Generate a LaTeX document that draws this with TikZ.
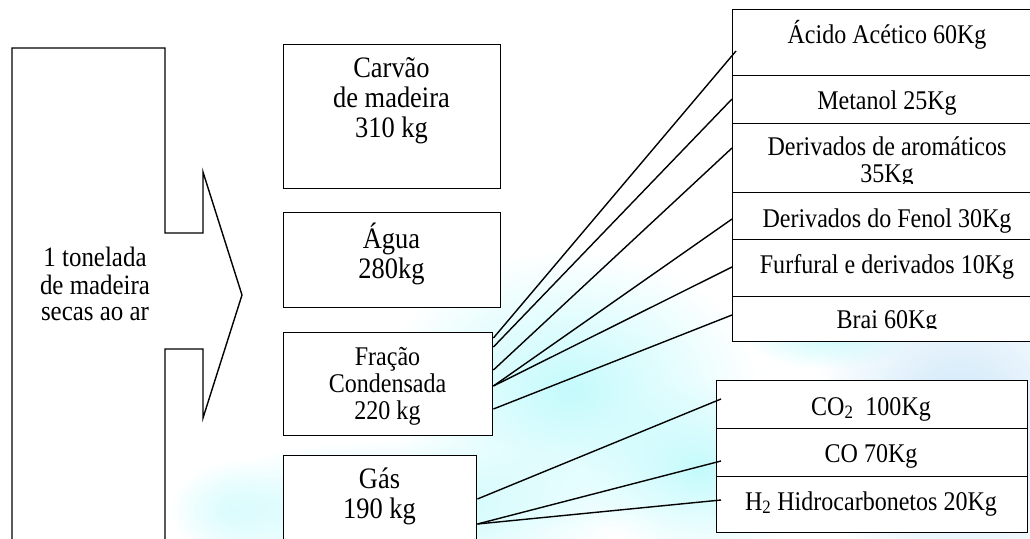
\documentclass[tikz,border=0pt]{standalone}
\usepackage{fontspec}
\setmainfont{Liberation Serif}[FakeStretch=0.89]
\usetikzlibrary{calc,fadings}
\tikzfading[name=fuzzy, inner color=transparent!0, outer color=transparent!100]
\definecolor{wmc}{RGB}{196,250,252}
\definecolor{wmb}{RGB}{200,228,248}
\begin{document}
\begin{tikzpicture}[x=1pt,y=-1pt,line width=1.4pt,
  box/.style={draw, fill=white, rectangle, inner sep=0pt, anchor=north west},
  bigtxt/.style={inner sep=0pt, align=center, font=\fontsize{29.7}{28}\selectfont},
  midtxt/.style={inner sep=0pt, align=center, font=\fontsize{27}{27}\selectfont},
  celltxt/.style={inner sep=0pt, anchor=base, font=\fontsize{27}{25}\selectfont},
  conn/.style={draw, line width=1.4pt}]
\useasboundingbox (0,0) rectangle (1030,538);
% faint watermark
\fill[wmc, path fading=fuzzy] (570,390) ellipse (190 and 140);
\fill[wmc, path fading=fuzzy] (400,510) ellipse (230 and 70);
\fill[wmc, path fading=fuzzy] (700,470) ellipse (120 and 90);
\fill[wmc, opacity=0.5, path fading=fuzzy] (230,510) ellipse (60 and 50);
\fill[wmb, path fading=fuzzy] (960,430) ellipse (150 and 170);
\fill[wmc, path fading=fuzzy] (830,330) ellipse (90 and 40);
% big input arrow
\draw[line join=miter] (12,545) -- (12,48) -- (165,48) -- (165,233) -- (203,233) -- (203,172)
  -- (242,295) -- (203,418) -- (203,349) -- (165,349) -- (165,545);
\node[bigtxt, font=\fontsize{28}{26}\selectfont] (tin) at (95,287.8)
  {\strut 1 tonelada\\\strut de madeira\\\strut secas ao ar};
% middle boxes
\node[box, minimum width=217pt, minimum height=144pt] (carvao) at (283,44) {};
\node[bigtxt] (tcarvao) at (391.5,102) {\strut Carvão\\\strut de madeira\\\strut 310 kg};
\node[box, minimum width=217pt, minimum height=95pt] (agua) at (283,212) {};
\node[bigtxt] (tagua) at (391.5,255) {\strut Água\\\strut 280kg};
\node[box, minimum width=209pt, minimum height=103pt] (fracao) at (283,332) {};
\node[midtxt] (tfracao) at (387.5,387) {\strut Fração\\\strut Condensada\\\strut 220 kg};
\node[box, minimum width=193pt, minimum height=100pt] (gas) at (283,455) {};
\node[bigtxt, font=\fontsize{29.7}{30}\selectfont] (tgas) at (379.5,497) {\strut Gás\\\strut 190 kg};
% right stack: condensed fraction products
\node[box, minimum width=302pt, minimum height=66pt] (c1) at (732,9) {};
\node[box, minimum width=302pt, minimum height=48pt] (c2) at (732,75) {};
\node[box, minimum width=302pt, minimum height=69pt] (c3) at (732,123) {};
\node[box, minimum width=302pt, minimum height=47pt] (c4) at (732,192) {};
\node[box, minimum width=302pt, minimum height=57pt] (c5) at (732,239) {};
\node[box, minimum width=302pt, minimum height=45pt] (c6) at (732,296) {};
\node[celltxt] (t1) at (887,43) {Ácido Acético 60Kg};
\node[celltxt] (t2) at (887,109) {Metanol 25Kg};
\begin{scope}
  \clip (732,123) rectangle (1030,183);
  \node[inner sep=0pt, align=center, font=\fontsize{27}{25}\selectfont] (t3) at (887,163.5)
    {\strut Derivados de aromáticos\\\strut 35Kg};
\end{scope}
\node[celltxt] (t4) at (887,227) {Derivados do Fenol 30Kg};
\node[celltxt] (t5) at (887,273) {Furfural e derivados 10Kg};
\begin{scope}
  \clip (732,296) rectangle (1030,328);
  \node[celltxt] (t6) at (887,328) {Brai 60Kg};
\end{scope}
% right stack: gas products
\node[box, minimum width=311pt, minimum height=48pt] (g1) at (716,380) {};
\node[box, minimum width=311pt, minimum height=48pt] (g2) at (716,428) {};
\node[box, minimum width=311pt, minimum height=56pt] (g3) at (716,476) {};
\node[celltxt] (u1) at (871,415) {CO\textsubscript{2}\ \ 100Kg};
\node[celltxt] (u2) at (871,462) {CO 70Kg};
\node[celltxt] (u3) at (871,510) {H\textsubscript{2} Hidrocarbonetos 20Kg};
% connectors
\draw[conn] ($(fracao.north east)+(0,6)$) -- ($(c1.north west)+(4,42)$);
\draw[conn] ($(fracao.north east)+(0,15)$) -- ($(c2.north west)+(0,24)$);
\draw[conn] ($(fracao.north east)+(0,38)$) -- ($(c3.north west)+(0,25)$);
\draw[conn] ($(fracao.north east)+(0,54)$) -- ($(c4.north west)+(0,27)$);
\draw[conn] ($(fracao.north east)+(0,54)$) -- ($(c5.north west)+(0,28)$);
\draw[conn] ($(fracao.north east)+(0,77)$) -- ($(c6.north west)+(0,19)$);
\draw[conn] ($(gas.north east)+(0,44)$) -- ($(g1.north west)+(5,19)$);
\draw[conn] ($(gas.north east)+(0,69)$) -- ($(g2.north west)+(5,33)$);
\draw[conn] ($(gas.north east)+(0,69)$) -- ($(g3.north west)+(5,24)$);
\end{tikzpicture}
\end{document}
